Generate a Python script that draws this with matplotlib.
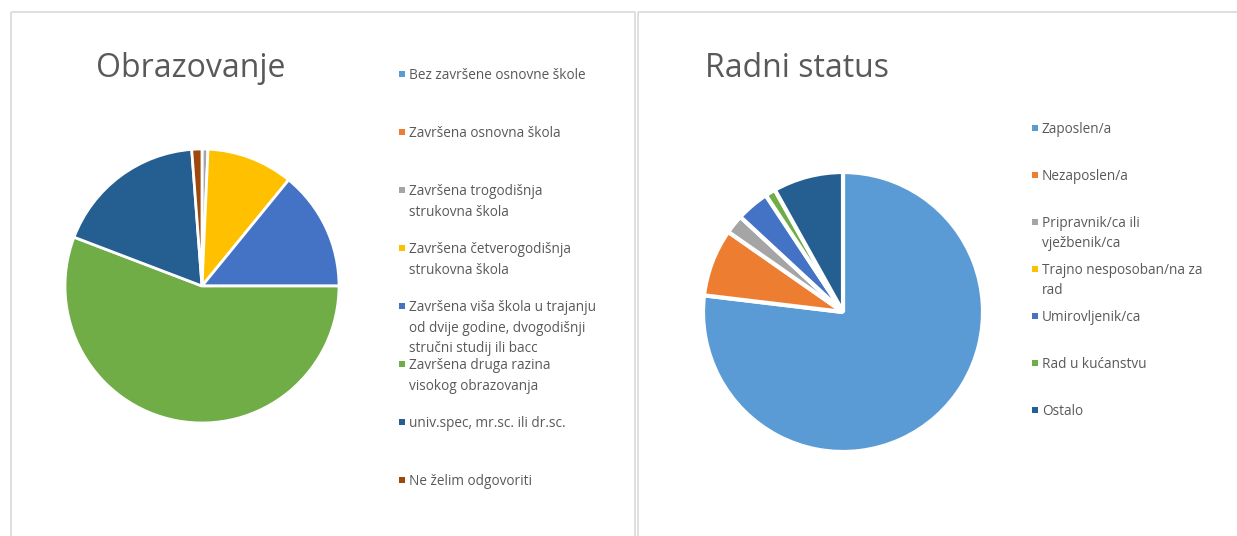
import matplotlib
matplotlib.use("Agg")
import matplotlib.pyplot as plt
from matplotlib.patches import Rectangle

plt.rcParams['font.family'] = ['Open Sans', 'DejaVu Sans']

# Obrazovanje (postotak ispitanika)
edu_labels = ["Bez završene osnovne škole",
              "Završena osnovna škola",
              "Završena trogodišnja\nstrukovna škola",
              "Završena četverogodišnja\nstrukovna škola",
              "Završena viša škola u trajanju\nod dvije godine, dvogodišnji\nstručni studij ili bacc",
              "Završena druga razina\nvisokog obrazovanja",
              "univ.spec, mr.sc. ili dr.sc.",
              "Ne želim odgovoriti"]
edu_values = [0, 0, 0.7, 10.2, 14.1, 55.8, 18.0, 1.2]
edu_colors = ["#5B9BD5", "#ED7D31", "#A5A5A5", "#FFC000", "#4472C4", "#70AD47", "#255E91", "#9E480E"]

# Radni status (postotak ispitanika)
work_labels = ["Zaposlen/a",
               "Nezaposlen/a",
               "Pripravnik/ca ili\nvježbenik/ca",
               "Trajno nesposoban/na za\nrad",
               "Umirovljenik/ca",
               "Rad u kućanstvu",
               "Ostalo"]
work_values = [76.9, 7.8, 2.2, 0, 3.8, 1.2, 8.1]
work_colors = ["#5B9BD5", "#ED7D31", "#A5A5A5", "#FFC000", "#4472C4", "#70AD47", "#255E91"]

W, H = 1237, 536
text_col = "#595959"
border_col = "#D9D9D9"

fig = plt.figure(figsize=(W / 100, H / 100), dpi=100)
fig.patch.set_facecolor("white")

# pozadinski sloj u pikselima: okviri, naslovi, legende
bg = fig.add_axes([0, 0, 1, 1])
bg.set_xlim(0, W)
bg.set_ylim(H, 0)
bg.axis("off")
bg.add_patch(Rectangle((11, 12), 624, 540, fill=False, edgecolor=border_col, lw=1.2))
bg.add_patch(Rectangle((638, 12), 620, 540, fill=False, edgecolor=border_col, lw=1.2))

bg.text(96, 77, "Obrazovanje", fontsize=23, color=text_col, va="baseline", ha="left")
bg.text(705, 77, "Radni status", fontsize=23, color=text_col, va="baseline", ha="left")


def draw_legend(labels, colors, x0, y0, step, spacing):
    for i, (lab, col) in enumerate(zip(labels, colors)):
        y = y0 + i * step
        bg.scatter([x0], [y], marker="s", s=14, color=col, linewidths=0)
        bg.text(x0 + 7, y - 6, lab, fontsize=9.8, color=text_col, va="top", ha="left",
                linespacing=spacing)


draw_legend(edu_labels, edu_colors, 402, 74, 58, 1.5)
draw_legend(work_labels, work_colors, 1035, 128, 47, 1.42)


def draw_pie(values, colors, cx, cy, r, lw):
    ax = fig.add_axes([(cx - r) / W, (H - cy - r) / H, 2 * r / W, 2 * r / H])
    ax.pie(values, colors=colors, startangle=90, counterclock=False,
           wedgeprops=dict(edgecolor="white", linewidth=lw, joinstyle="bevel"))
    ax.set_xlim(-1.0, 1.0)
    ax.set_ylim(-1.0, 1.0)
    ax.set_aspect("equal")
    ax.axis("off")
    return ax


draw_pie(edu_values, edu_colors, 202, 286, 137, 2)
draw_pie(work_values, work_colors, 843, 312, 140, 3)

plt.savefig("out.png", dpi=100, facecolor="white")
